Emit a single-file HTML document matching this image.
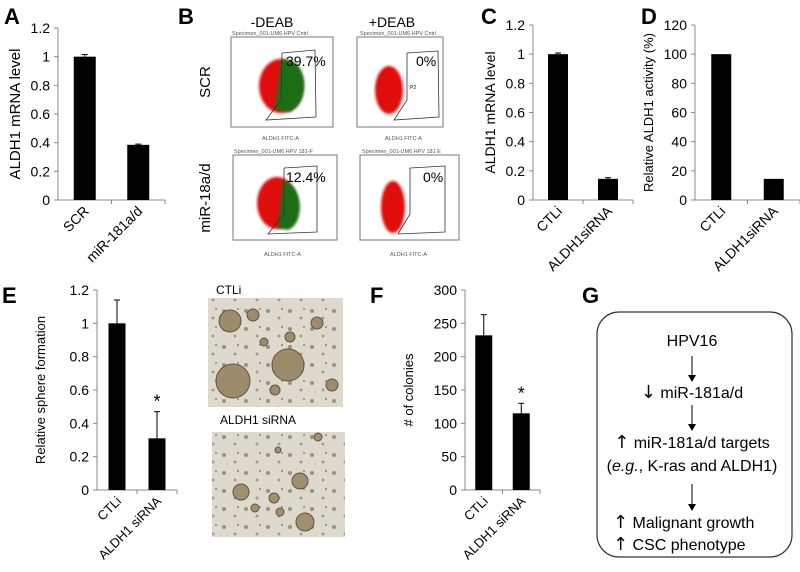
<!DOCTYPE html>
<html><head><meta charset="utf-8"><style>
body{margin:0;background:#fff;}
svg{display:block;font-family:"Liberation Sans",sans-serif;}
.arr{font-family:"DejaVu Sans",sans-serif;font-size:18px;}
</style></head><body>
<svg id="fig" width="800" height="572" viewBox="0 0 800 572">
<defs>
<filter id="blur1"><feGaussianBlur stdDeviation="1.2"/></filter>
<pattern id="cells" width="22" height="18" patternUnits="userSpaceOnUse">
<rect width="22" height="18" fill="#ddd9cc"/>
<circle cx="4" cy="5" r="2" fill="#9a9280"/><circle cx="15" cy="12" r="1.5" fill="#a59d8a"/><circle cx="18" cy="3" r="1" fill="#8f8774"/>
</pattern>
</defs>
<g id="panel-labels" font-weight="bold" font-size="22" fill="#000">
<text x="4" y="24">A</text>
<text x="178" y="24">B</text>
<text x="481" y="24">C</text>
<text x="641" y="24">D</text>
<text x="2" y="303">E</text>
<text x="370" y="303">F</text>
<text x="582" y="303">G</text>
</g>

<g id="panel-b">
<text x="272" y="27" font-size="14" text-anchor="middle">-DEAB</text>
<text x="392" y="27" font-size="14" text-anchor="middle">+DEAB</text>
<text transform="translate(210,82) rotate(-90)" font-size="15" text-anchor="middle">SCR</text>
<text transform="translate(210,198) rotate(-90)" font-size="15" text-anchor="middle">miR-18a/d</text>

<g>
<text x="232" y="35" font-size="5.5" fill="#555">Specimen_001-UM6 HPV Cntrl</text>
<rect x="231" y="37" width="102" height="90" fill="#fff" stroke="#777"/>
<ellipse cx="281" cy="86" rx="22" ry="27" fill="#e01010" filter="url(#blur1)"/>
<path d="M281,60 Q300,58 304,80 Q306,104 290,112 L275,110 Z" fill="#1e6e12" filter="url(#blur1)"/>
<polyline points="282,53 315,50 316,117 266,120 281,100 282,53" fill="none" stroke="#333" stroke-width="0.8"/>
<text x="286" y="66" font-size="14">39.7%</text>
<text x="262" y="140" font-size="5.5" fill="#555">ALDH1 FITC-A</text>
</g>
<g>
<text x="360" y="35" font-size="5.5" fill="#555">Specimen_001-UM6 HPV Cntrl</text>
<rect x="357" y="37" width="86" height="90" fill="#fff" stroke="#777"/>
<ellipse cx="389" cy="90" rx="14" ry="24" fill="#e01010" filter="url(#blur1)"/>
<polyline points="407,53 438,51 439,117 394,120 407,100 407,53" fill="none" stroke="#333" stroke-width="0.8"/>
<text x="416" y="66" font-size="14">0%</text>
<text x="410" y="89" font-size="5">P2</text>
<text x="385" y="140" font-size="5.5" fill="#555">ALDH1 FITC-A</text>
</g>
<g>
<text x="234" y="153" font-size="5.5" fill="#555">Specimen_001-UM6 HPV 181-F</text>
<rect x="233" y="155" width="104" height="85" fill="#fff" stroke="#777"/>
<ellipse cx="277" cy="203" rx="20" ry="26" fill="#e01010" filter="url(#blur1)"/>
<path d="M283,180 Q298,185 300,205 Q300,225 288,230 L278,228 Z" fill="#1e6e12" filter="url(#blur1)"/>
<polyline points="284,168 317,166 317,232 268,234 284,214 284,168" fill="none" stroke="#333" stroke-width="0.8"/>
<text x="286" y="182" font-size="14">12.4%</text>
<text x="264" y="256" font-size="5.5" fill="#555">ALDH1 FITC-A</text>
</g>
<g>
<text x="362" y="153" font-size="5.5" fill="#555">Specimen_001-UM6 HPV 181 E</text>
<rect x="360" y="155" width="99" height="85" fill="#fff" stroke="#777"/>
<ellipse cx="393" cy="207" rx="12" ry="26" fill="#e01010" filter="url(#blur1)"/>
<polyline points="410,168 445,166 445,232 398,234 410,214 410,168" fill="none" stroke="#333" stroke-width="0.8"/>
<text x="423" y="182" font-size="14">0%</text>
<text x="390" y="256" font-size="5.5" fill="#555">ALDH1 FITC-A</text>
</g>
</g>

<g>
<text x="216" y="294" font-size="12">CTLi</text>
<rect x="208" y="298" width="135" height="109" fill="url(#cells)"/>
<g fill="#9c8c6c" stroke="#5e5440" stroke-width="1">
<circle cx="230" cy="321" r="11"/><circle cx="233" cy="381" r="17"/><circle cx="288" cy="365" r="16"/><circle cx="253" cy="315" r="6"/><circle cx="317" cy="323" r="6"/><circle cx="332" cy="385" r="6"/><circle cx="290" cy="337" r="5"/><circle cx="264" cy="342" r="4"/><circle cx="275" cy="390" r="5"/>
</g>
<text x="220" y="424" font-size="12">ALDH1 siRNA</text>
<rect x="212" y="432" width="133" height="105" fill="url(#cells)"/>
<g fill="#a09070" stroke="#5e5440" stroke-width="1">
<circle cx="241" cy="492" r="8"/><circle cx="300" cy="481" r="8"/><circle cx="305" cy="522" r="9"/><circle cx="274" cy="498" r="5"/><circle cx="255" cy="508" r="4"/><circle cx="280" cy="512" r="4"/><circle cx="318" cy="437" r="4"/><circle cx="278" cy="450" r="3"/>
</g>
</g>

<g font-size="16" text-anchor="middle">
<rect x="597" y="312" width="195" height="245" rx="22" fill="none" stroke="#333" stroke-width="1.2"/>
<text x="692" y="346">HPV16</text>
<line x1="692" y1="356" x2="692" y2="379" stroke="#000"/><path d="M688,375 L692,382 L696,375Z"/>
<text x="692" y="398"><tspan class="arr">↓</tspan> miR-181a/d</text>
<line x1="692" y1="405" x2="692" y2="428" stroke="#000"/><path d="M688,424 L692,431 L696,424Z"/>
<text x="692" y="448"><tspan class="arr">↑</tspan> miR-181a/d targets</text>
<text x="692" y="471">(<tspan font-style="italic">e.g.</tspan>, K-ras and ALDH1)</text>
<line x1="692" y1="484" x2="692" y2="508" stroke="#000"/><path d="M688,504 L692,511 L696,504Z"/>
<text x="613" y="528" text-anchor="start"><tspan class="arr">↑</tspan> Malignant growth</text>
<text x="613" y="550" text-anchor="start"><tspan class="arr">↑</tspan> CSC phenotype</text>
</g>
<g id="charts"></g>
</svg>
<script>
const aCats = ["SCR", "miR-181a/d"];
const aVals = [1.0, 0.385];
const aErrs = [0.015, 0.005];
const aTicks = ["0","0.2","0.4","0.6","0.8","1","1.2"];
const cCats = ["CTLi", "ALDH1siRNA"];
const cVals = [1.0, 0.145];
const cErrs = [0.008, 0.008];
const cTicks = ["0","0.2","0.4","0.6","0.8","1","1.2"];
const dCats = ["CTLi", "ALDH1siRNA"];
const dVals = [100, 14.5];
const dErrs = [0, 0];
const dTicks = ["0","20","40","60","80","100","120"];
const eCats = ["CTLi", "ALDH1 siRNA"];
const eVals = [1.0, 0.31];
const eErrs = [0.14, 0.16];
const eSig = [false, true];
const eTicks = ["0","0.2","0.4","0.6","0.8","1","1.2"];
const fCats = ["CTLi", "ALDH1 siRNA"];
const fVals = [232, 115];
const fErrs = [31, 15];
const fSig = [false, true];
const fTicks = ["0","50","100","150","200","250","300"];

const NS = "http://www.w3.org/2000/svg";
const root = document.getElementById("charts");
function mk(tag, attrs, parent){const e=document.createElementNS(NS,tag);for(const k in attrs)e.setAttribute(k,attrs[k]);(parent||root).appendChild(e);return e;}

function chart(o){
  const g = mk("g",{});
  
  
  const max = parseFloat(o.ticks[o.ticks.length-1]);
  const y = v => o.y0 - (v/max)*(o.y0-o.y1);
  const slot = (o.xEnd - o.ax)/o.cats.length;
  const x = i => o.ax + slot*i + slot/2;
  mk("line",{x1:o.ax,y1:o.y1,x2:o.ax,y2:o.y0,stroke:"#888","stroke-width":1},g);
  mk("line",{x1:o.ax,y1:o.y0,x2:o.xEnd,y2:o.y0,stroke:"#888","stroke-width":1},g);
  o.ticks.forEach((t)=>{
    const yy=y(parseFloat(t));
    mk("line",{x1:o.ax-4,y1:yy,x2:o.ax,y2:yy,stroke:"#888"},g);
    const tx=mk("text",{x:o.ax-8,y:yy+5,"font-size":14,"text-anchor":"end"},g);
    tx.textContent=t;
    
    
  });
  for(let i=1;i<o.cats.length;i++){const xx=o.ax+slot*i;mk("line",{x1:xx,y1:o.y0,x2:xx,y2:o.y0+4,stroke:"#888"},g);}
  mk("line",{x1:o.xEnd,y1:o.y0,x2:o.xEnd,y2:o.y0+4,stroke:"#888"},g);
  o.cats.forEach((c,i)=>{
    const cx=x(i);
    const b=mk("rect",{x:cx-o.bw/2,y:y(o.vals[i]),width:o.bw,height:o.y0-y(o.vals[i]),fill:"#000"},g);
    
    
    if(o.errs[i]>0){
      const top=y(o.vals[i]+o.errs[i]);
      mk("line",{x1:cx,y1:top,x2:cx,y2:y(o.vals[i]),stroke:"#000","stroke-width":1},g);
      mk("line",{x1:cx-3,y1:top,x2:cx+3,y2:top,stroke:"#000","stroke-width":1},g);
    }
    if(o.sig && o.sig[i]){
      const s=mk("text",{x:cx,y:y(o.vals[i]+o.errs[i])-4,"font-size":18,"text-anchor":"middle"},g);
      s.textContent="*";
      
      
    }
    const lb=mk("text",{transform:`translate(${cx+5},${o.y0+12}) rotate(-45)`,"font-size":o.lfs||14,"text-anchor":"end"},g);
    lb.textContent=c;
    
    
  });
  const yt=mk("text",{transform:`translate(${o.tx},${(o.y0+o.y1)/2}) rotate(-90)`,"font-size":o.tfs||14,"text-anchor":"middle"},g);
  yt.textContent=o.title;
  
  
}
chart({name:"chart-a",cats:aCats,vals:aVals,errs:aErrs,ticks:aTicks,ax:58,xEnd:165,y0:200,y1:28,bw:22,title:"ALDH1 mRNA level",tx:20,tfs:15});
chart({name:"chart-c",cats:cCats,vals:cVals,errs:cErrs,ticks:cTicks,ax:533,xEnd:633,y0:200,y1:25,bw:20,title:"ALDH1 mRNA level",tx:495,tfs:14});
chart({name:"chart-d",cats:dCats,vals:dVals,errs:dErrs,ticks:dTicks,ax:695,xEnd:800,y0:200,y1:25,bw:20,title:"Relative ALDH1 activity (%)",tx:653,tfs:13});
chart({name:"chart-e",cats:eCats,vals:eVals,errs:eErrs,sig:eSig,ticks:eTicks,ax:97,xEnd:177,y0:490,y1:290,bw:17,title:"Relative sphere formation",tx:45,tfs:13,lfs:13});
chart({name:"chart-f",cats:fCats,vals:fVals,errs:fErrs,sig:fSig,ticks:fTicks,ax:465,xEnd:540,y0:490,y1:290,bw:17,title:"# of colonies",tx:413,tfs:13,lfs:13});
</script>
</body></html>
